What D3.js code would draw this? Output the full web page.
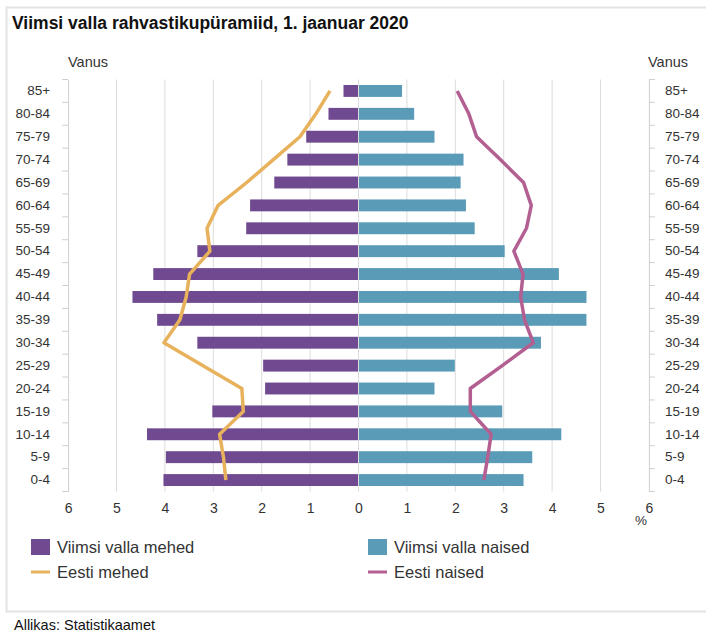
<!DOCTYPE html>
<html lang="et">
<head>
  <meta charset="UTF-8">
  <title>Viimsi valla rahvastikupüramiid</title>
  <script src="https://d3js.org/d3.v7.min.js"></script>
  <style>
    html, body { margin: 0; background: #fff; }
    svg { display: block; }
    text { font-family: "Liberation Sans", Arial, sans-serif; fill: #333; }
  </style>
</head>
<body>
  <svg width="706" height="632"></svg>
  <script>
    // age groups, top to bottom
    const ages = ["85+", "80-84", "75-79", "70-74", "65-69", "60-64", "55-59", "50-54", "45-49",
                  "40-44", "35-39", "30-34", "25-29", "20-24", "15-19", "10-14", "5-9", "0-4"];
    // % of population
    const viimsiMehed  = [0.31, 0.62, 1.08, 1.47, 1.74, 2.24, 2.32, 3.33, 4.24,
                          4.67, 4.16, 3.33, 1.97, 1.93, 3.02, 4.37, 3.98, 4.03];
    const viimsiNaised = [0.90, 1.15, 1.57, 2.17, 2.11, 2.22, 2.40, 3.02, 4.14,
                          4.71, 4.71, 3.77, 1.99, 1.57, 2.97, 4.19, 3.59, 3.41];
    const eestiMehed   = [0.59, 0.88, 1.21, 1.76, 2.31, 2.90, 3.13, 3.07, 3.49,
                          3.56, 3.69, 4.02, 3.22, 2.41, 2.38, 2.87, 2.79, 2.74];
    const eestiNaised  = [2.04, 2.28, 2.44, 2.93, 3.41, 3.57, 3.47, 3.21, 3.40,
                          3.35, 3.43, 3.61, 2.97, 2.31, 2.31, 2.74, 2.67, 2.59];
    const ticksLeft = [6, 5, 4, 3, 2, 1, 0];
    const ticksRight = [1, 2, 3, 4, 5, 6];

    const colMehed = "#704a91", colNaised = "#5a9bb8";
    const colEMehed = "#e8b25c", colENaised = "#b35f92";
    const gridCol = "#dcdcdc", axisCol = "#cfcfcf";

    const svg = d3.select("svg");

    // frame
    svg.append("rect")
      .attr("x", 6.5).attr("y", 7.5).attr("width", 720).attr("height", 604)
      .attr("fill", "none").attr("stroke", "#e3e3e3").attr("stroke-width", 2);

    svg.append("text")
      .attr("x", 12).attr("y", 29)
      .style("font-size", "17.5px").style("font-weight", "bold").style("fill", "#111")
      .text("Viimsi valla rahvastikupüramiid, 1. jaanuar 2020");

    const x0 = 358.5, unit = 48.4;
    const xL = d3.scaleLinear().domain([0, 6]).range([x0, x0 - 6 * unit]);
    const xR = d3.scaleLinear().domain([0, 6]).range([x0, x0 + 6 * unit]);
    const yTop = 79.5, yBottom = 491.5;
    const y = d3.scaleBand().domain(ages).range([yTop, yBottom]).paddingInner(0.48).paddingOuter(0.24);

    // grid lines
    const grid = svg.append("g");
    [1, 2, 3, 4, 5].forEach(v => {
      grid.append("line").attr("x1", xL(v)).attr("x2", xL(v)).attr("y1", yTop).attr("y2", yBottom)
        .attr("stroke", gridCol);
      grid.append("line").attr("x1", xR(v)).attr("x2", xR(v)).attr("y1", yTop).attr("y2", yBottom)
        .attr("stroke", gridCol);
    });
    grid.append("line").attr("x1", x0).attr("x2", x0).attr("y1", yTop).attr("y2", yBottom).attr("stroke", gridCol);

    // y axes (labels) + boundary ticks
    const yl = svg.append("g").attr("transform", `translate(${xL(6)},0)`)
      .call(d3.axisLeft(y).tickSize(0).tickPadding(18));
    const yr = svg.append("g").attr("transform", `translate(${xR(6)},0)`)
      .call(d3.axisRight(y).tickSize(0).tickPadding(16));
    [yl, yr].forEach(g => {
      g.select(".domain").attr("stroke", axisCol);
      g.selectAll("text").style("font-size", "13.5px").style("fill", "#333");
    });
    const step = y.step();
    d3.range(ages.length + 1).forEach(i => {
      const yy = yTop + i * step;
      svg.append("line").attr("x1", xL(6) - 6).attr("x2", xL(6)).attr("y1", yy).attr("y2", yy).attr("stroke", axisCol);
      svg.append("line").attr("x1", xR(6)).attr("x2", xR(6) + 6).attr("y1", yy).attr("y2", yy).attr("stroke", axisCol);
    });

    // x axes labels
    const xa1 = svg.append("g").attr("transform", `translate(0,${yBottom})`)
      .call(d3.axisBottom(xL).tickValues(ticksLeft).tickSize(0).tickPadding(12).tickFormat(d3.format("d")));
    const xa2 = svg.append("g").attr("transform", `translate(0,${yBottom})`)
      .call(d3.axisBottom(xR).tickValues(ticksRight).tickSize(0).tickPadding(12).tickFormat(d3.format("d")));
    [xa1, xa2].forEach(g => {
      g.select(".domain").remove();
      g.selectAll("text").style("font-size", "14px").style("fill", "#333");
    });
    svg.append("text").attr("x", 641).attr("y", 525).attr("text-anchor", "middle")
      .style("font-size", "13.5px").text("%");

    // bars
    svg.append("g").selectAll("rect").data(ages).join("rect")
      .attr("x", (d, i) => xL(viimsiMehed[i]))
      .attr("y", d => y(d))
      .attr("width", (d, i) => xL(0) - xL(viimsiMehed[i]) - 0.5)
      .attr("height", y.bandwidth())
      .attr("fill", colMehed);
    svg.append("g").selectAll("rect").data(ages).join("rect")
      .attr("x", xR(0) + 0.5)
      .attr("y", d => y(d))
      .attr("width", (d, i) => xR(viimsiNaised[i]) - xR(0) - 0.5)
      .attr("height", y.bandwidth())
      .attr("fill", colNaised);

    // Eesti lines
    const cy = d => y(d) + y.bandwidth() / 2;
    const lineM = d3.line().x((d, i) => xL(eestiMehed[i])).y(d => cy(d));
    const lineN = d3.line().x((d, i) => xR(eestiNaised[i])).y(d => cy(d));
    svg.append("path").datum(ages).attr("d", lineM)
      .attr("fill", "none").attr("stroke", colEMehed).attr("stroke-width", 3.5).attr("stroke-linejoin", "round");
    svg.append("path").datum(ages).attr("d", lineN)
      .attr("fill", "none").attr("stroke", colENaised).attr("stroke-width", 3.5).attr("stroke-linejoin", "round");

    // "Vanus" labels
    svg.append("text").attr("x", 68).attr("y", 67).style("font-size", "14.5px").text("Vanus");
    svg.append("text").attr("x", 648).attr("y", 67).style("font-size", "14.5px").text("Vanus");

    // legend
    const legend = [
      { name: "Viimsi valla mehed", color: colMehed, type: "box", x: 31, y: 547 },
      { name: "Viimsi valla naised", color: colNaised, type: "box", x: 368, y: 547 },
      { name: "Eesti mehed", color: colEMehed, type: "line", x: 31, y: 572 },
      { name: "Eesti naised", color: colENaised, type: "line", x: 368, y: 572 }
    ];
    const lg = svg.append("g").selectAll("g").data(legend).join("g")
      .attr("transform", d => `translate(${d.x},${d.y})`);
    lg.filter(d => d.type === "box").append("rect")
      .attr("x", 0).attr("y", -8).attr("width", 19).attr("height", 16).attr("fill", d => d.color);
    lg.filter(d => d.type === "line").append("line")
      .attr("x1", 0).attr("x2", 19).attr("y1", 0).attr("y2", 0)
      .attr("stroke", d => d.color).attr("stroke-width", 3);
    lg.append("text").attr("x", 26).attr("y", 6).style("font-size", "16.5px").text(d => d.name);

    svg.append("text").attr("x", 14).attr("y", 630).style("font-size", "14.5px").style("fill", "#111")
      .text("Allikas: Statistikaamet");
  </script>
</body>
</html>
